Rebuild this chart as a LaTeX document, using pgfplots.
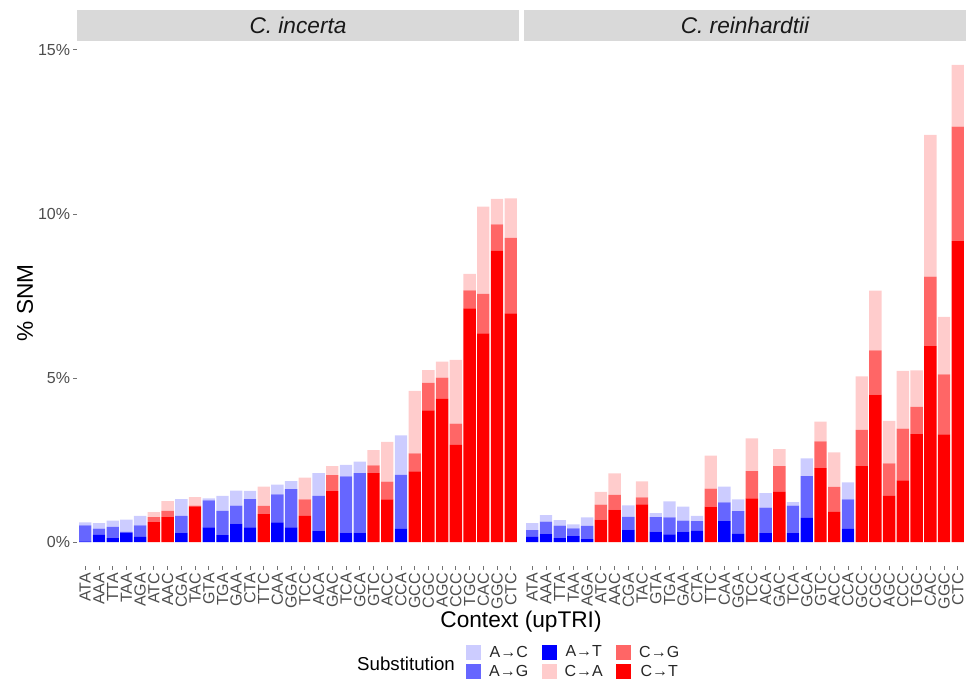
\documentclass[border=0pt]{standalone}
\usepackage{pgfplots}
\pgfplotsset{compat=1.18}
\usepackage{pgfplotstable}
\usepackage{fontspec}
\setmainfont{Liberation Sans}

% substitution colours
\definecolor{cAC}{RGB}{204,204,255}
\definecolor{cAG}{RGB}{102,102,255}
\definecolor{cAT}{RGB}{0,0,255}
\definecolor{cCA}{RGB}{255,204,204}
\definecolor{cCG}{RGB}{255,102,102}
\definecolor{cCT}{RGB}{255,0,0}
\definecolor{stripgrey}{RGB}{217,217,217}
\definecolor{tickgrey}{RGB}{77,77,77}

% % SNM per trinucleotide context (columns: position, A>C, A>G, A>T, C>A, C>G, C>T)
\pgfplotstableread{
x  AC   AG   AT   CA   CG   CT
1  0.09 0.49 0.02 0    0    0
2  0.17 0.19 0.22 0    0    0
3  0.19 0.34 0.12 0    0    0
4  0.37 0.03 0.28 0    0    0
5  0.29 0.35 0.16 0    0    0
6  0    0    0    0.15 0.15 0.61
7  0    0    0    0.30 0.19 0.76
8  0.51 0.51 0.29 0    0    0
9  0    0    0    0.26 0.02 1.09
10 0.06 0.82 0.45 0    0    0
11 0.46 0.74 0.21 0    0    0
12 0.46 0.55 0.56 0    0    0
13 0.25 0.86 0.45 0    0    0
14 0    0    0    0.59 0.25 0.85
15 0.30 0.85 0.60 0    0    0
16 0.25 1.16 0.45 0    0    0
17 0    0    0    0.66 0.50 0.80
18 0.69 1.06 0.35 0    0    0
19 0    0    0    0.27 0.49 1.55
20 0.35 1.71 0.29 0    0    0
21 0.35 1.81 0.29 0    0    0
22 0    0    0    0.46 0.24 2.10
23 0    0    0    1.21 0.54 1.30
24 1.20 1.65 0.40 0    0    0
25 0    0    0    1.91 0.55 2.15
26 0    0    0    0.39 0.84 4.01
27 0    0    0    0.49 0.65 4.36
28 0    0    0    1.94 0.65 2.96
29 0    0    0    0.50 0.55 7.12
30 0    0    0    2.66 1.20 6.36
31 0    0    0    0.78 0.81 8.87
32 0    0    0    1.20 2.30 6.97
}\incerta

\pgfplotstableread{
x  AC   AG   AT   CA   CG   CT
1  0.22 0.20 0.16 0    0    0
2  0.20 0.38 0.24 0    0    0
3  0.17 0.38 0.12 0    0    0
4  0.12 0.24 0.18 0    0    0
5  0.26 0.40 0.09 0    0    0
6  0    0    0    0.39 0.46 0.68
7  0    0    0    0.65 0.45 0.99
8  0.35 0.39 0.38 0    0    0
9  0    0    0    0.49 0.21 1.15
10 0.12 0.44 0.32 0    0    0
11 0.49 0.52 0.23 0    0    0
12 0.43 0.33 0.32 0    0    0
13 0.16 0.30 0.34 0    0    0
14 0    0    0    1.00 0.55 1.08
15 0.48 0.57 0.64 0    0    0
16 0.36 0.69 0.25 0    0    0
17 0    0    0    1.00 0.83 1.33
18 0.44 0.78 0.27 0    0    0
19 0    0    0    0.52 0.78 1.53
20 0.11 0.84 0.27 0    0    0
21 0.54 1.27 0.74 0    0    0
22 0    0    0    0.60 0.82 2.25
23 0    0    0    1.05 0.76 0.92
24 0.52 0.90 0.40 0    0    0
25 0    0    0    1.63 1.11 2.31
26 0    0    0    1.82 1.35 4.49
27 0    0    0    1.29 0.99 1.41
28 0    0    0    1.76 1.58 1.88
29 0    0    0    1.11 0.83 3.29
30 0    0    0    4.32 2.12 5.97
31 0    0    0    1.75 1.83 3.28
32 0    0    0    1.88 3.49 9.17
}\reinhardtii

\pgfplotsset{
  facet/.style={
    anchor=south west, scale only axis,
    width=331.5pt, height=393.75pt,
    xmin=0.4, xmax=32.6, ymin=-0.73, ymax=15.27,
    ybar stacked, bar width=0.9,
    axis line style={draw=none},
    tick align=outside, tick pos=left,
    major tick length=3pt,
    tick style={draw=black!55, line width=0.6pt},
    xtick={1,...,32},
    xticklabels={ATA,AAA,TTA,TAA,AGA,ATC,AAC,CGA,TAC,GTA,TGA,GAA,CTA,TTC,CAA,GGA,
                 TCC,ACA,GAC,TCA,GCA,GTC,ACC,CCA,GCC,CGC,AGC,CCC,TGC,CAC,GGC,CTC},
    xticklabel style={rotate=90, anchor=east, font=\fontsize{12}{12}\selectfont, text=tickgrey, inner sep=2pt},
    yticklabel style={font=\fontsize{12}{12}\selectfont, text=tickgrey, inner sep=2pt},
    every axis title/.style={at={(0.5,1)}, anchor=south, fill=stripgrey,
      minimum width=331.5pt, minimum height=23.25pt, inner sep=0pt,
      font=\itshape\fontsize{17}{17}\selectfont, text=black!90},
  },
  sqkey/.style={draw=none, fill=#1,
    legend image code/.code={\fill[#1] (0pt,-5.6pt) rectangle (11.25pt,5.6pt);}},
}

\begin{document}
\begin{tikzpicture}
\path[use as bounding box] (0,0) rectangle (728.25pt,510.75pt);

\begin{axis}[facet, at={(57.75pt,86.25pt)}, title={C. incerta},
  ytick={0,5,10,15}, yticklabels={0\%,5\%,10\%,15\%},
  legend columns=3,
  legend style={at={(0.880,-0.183)}, anchor=west, draw=none, fill=none,
    font=\fontsize{12}{12}\selectfont, text=black!85,
    row sep=0.5pt, inner sep=0pt,
    /tikz/every odd column/.append style={column sep=4pt},
    /tikz/every even column/.append style={column sep=8pt}},
]
\addplot[forget plot, fill=cCT, draw=none] table[x=x, y=CT] {\incerta};
\addplot[forget plot, fill=cCG, draw=none] table[x=x, y=CG] {\incerta};
\addplot[forget plot, fill=cCA, draw=none] table[x=x, y=CA] {\incerta};
\addplot[forget plot, fill=cAT, draw=none] table[x=x, y=AT] {\incerta};
\addplot[forget plot, fill=cAG, draw=none] table[x=x, y=AG] {\incerta};
\addplot[forget plot, fill=cAC, draw=none] table[x=x, y=AC] {\incerta};
\addlegendimage{sqkey=cAC}\addlegendentry{A→C}
\addlegendimage{sqkey=cAT}\addlegendentry{A→T}
\addlegendimage{sqkey=cCG}\addlegendentry{C→G}
\addlegendimage{sqkey=cAG}\addlegendentry{A→G}
\addlegendimage{sqkey=cCA}\addlegendentry{C→A}
\addlegendimage{sqkey=cCT}\addlegendentry{C→T}
\end{axis}

\begin{axis}[facet, at={(393pt,86.25pt)}, title={C. reinhardtii}, ytick=\empty]
\addplot[fill=cCT, draw=none] table[x=x, y=CT] {\reinhardtii};
\addplot[fill=cCG, draw=none] table[x=x, y=CG] {\reinhardtii};
\addplot[fill=cCA, draw=none] table[x=x, y=CA] {\reinhardtii};
\addplot[fill=cAT, draw=none] table[x=x, y=AT] {\reinhardtii};
\addplot[fill=cAG, draw=none] table[x=x, y=AG] {\reinhardtii};
\addplot[fill=cAC, draw=none] table[x=x, y=AC] {\reinhardtii};
\end{axis}

% axis titles and legend title
\node[rotate=90, font=\fontsize{17}{17}\selectfont] at (18.75pt,283.5pt) {\% SNM};
\node[font=\fontsize{17}{17}\selectfont] at (390.75pt,44.25pt) {Context (upTRI)};
\node[font=\fontsize{14}{14}\selectfont] at (304.5pt,13pt) {Substitution};
\end{tikzpicture}
\end{document}
